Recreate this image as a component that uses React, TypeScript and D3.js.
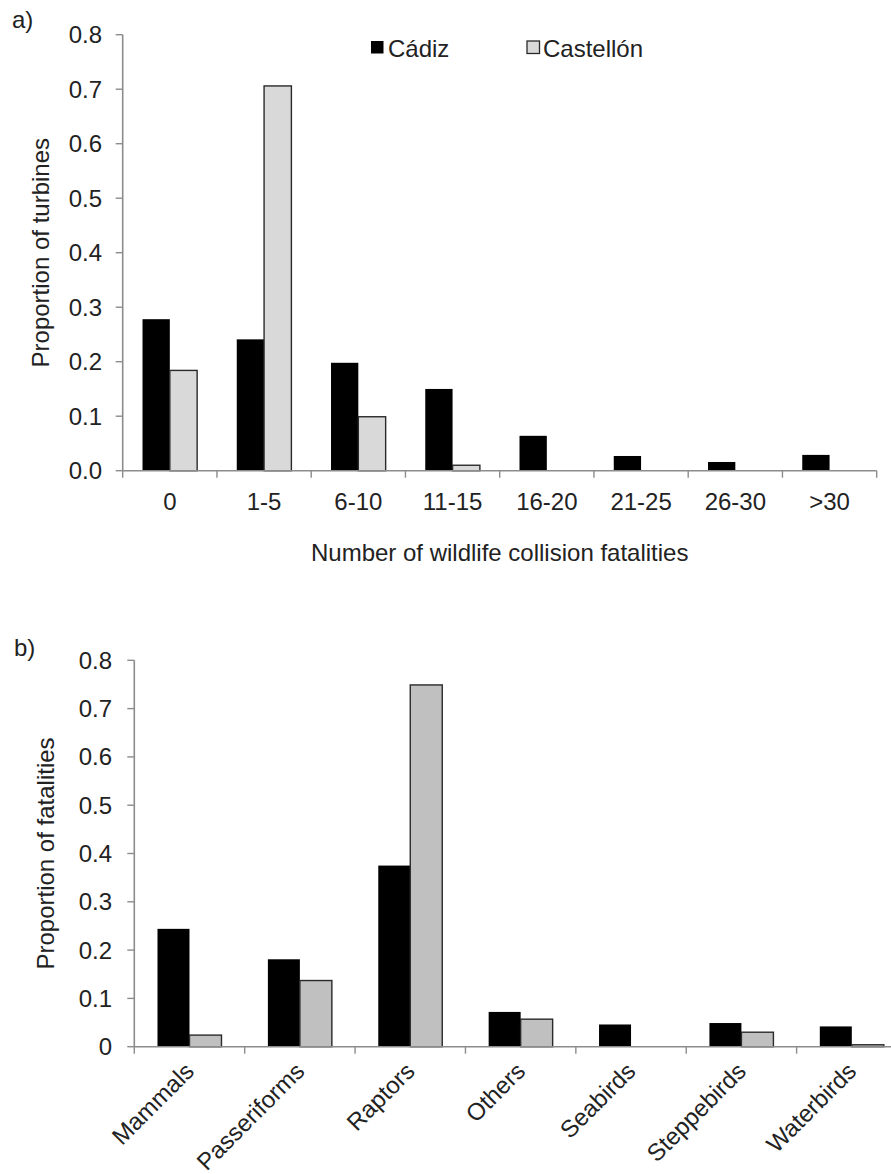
import React from "react";
import * as d3 from "d3";

const catsA = ["0", "1-5", "6-10", "11-15", "16-20", "21-25", "26-30", ">30"];
const cadizA = [0.278, 0.241, 0.198, 0.15, 0.064, 0.027, 0.016, 0.029];
const castellonA = [0.184, 0.706, 0.099, 0.01, 0, 0, 0, 0];
const ticksA = [0, 0.1, 0.2, 0.3, 0.4, 0.5, 0.6, 0.7, 0.8];
const tickLabelsA = ["0.0", "0.1", "0.2", "0.3", "0.4", "0.5", "0.6", "0.7", "0.8"];

const catsB = ["Mammals", "Passeriforms", "Raptors", "Others", "Seabirds", "Steppebirds", "Waterbirds"];
const cadizB = [0.244, 0.181, 0.375, 0.072, 0.046, 0.049, 0.042];
const castellonB = [0.024, 0.137, 0.749, 0.057, 0, 0.03, 0.004];
const ticksB = [0, 0.1, 0.2, 0.3, 0.4, 0.5, 0.6, 0.7, 0.8];
const tickLabelsB = ["0", "0.1", "0.2", "0.3", "0.4", "0.5", "0.6", "0.7", "0.8"];

const seriesNames = ["Cádiz", "Castellón"];

const FONT = "'Liberation Sans', Arial, sans-serif";
const AXIS = "#8c8c8c";
const TXT = "#222";

function Panel(props: {
  cats: string[];
  s1: number[];
  s2: number[];
  ticks: number[];
  tickLabels: string[];
  x0: number;
  x1: number;
  y0: number;
  y1: number;
  fill2: string;
  tickLabelX: number;
  rotated: boolean;
}) {
  const { cats, s1, s2, ticks, tickLabels, x0, x1, y0, y1, fill2, tickLabelX, rotated } = props;
  const x = d3.scaleBand<string>().domain(cats).range([x0, x1]).paddingInner(0).paddingOuter(0);
  const inner = d3
    .scaleBand<string>()
    .domain(seriesNames)
    .range([0, x.bandwidth()])
    .paddingInner(0)
    .paddingOuter(0.725);
  const y = d3.scaleLinear().domain([0, 0.8]).range([y0, y1]);
  const edges = d3.range(cats.length + 1).map((i) => x0 + i * x.step());
  return (
    <g>
      {cats.map((c, i) => (
        <g key={c}>
          <rect
            x={(x(c) as number) + (inner("Cádiz") as number)}
            y={y(s1[i])}
            width={inner.bandwidth()}
            height={y(0) - y(s1[i])}
            fill="#000"
          />
          {s2[i] > 0 && (
            <rect
              x={(x(c) as number) + (inner("Castellón") as number)}
              y={y(s2[i])}
              width={inner.bandwidth()}
              height={y(0) - y(s2[i])}
              fill={fill2}
              stroke="#2a2a2a"
              strokeWidth={1.4}
            />
          )}
        </g>
      ))}
      {/* y axis */}
      <line x1={x0} x2={x0} y1={y(0.8)} y2={y(0)} stroke={AXIS} strokeWidth={1.6} />
      {ticks.map((t, i) => (
        <g key={t}>
          <line x1={x0 - 7} x2={x0} y1={y(t)} y2={y(t)} stroke={AXIS} strokeWidth={1.4} />
          <text
            x={tickLabelX}
            y={y(t)}
            dy="0.35em"
            textAnchor="end"
            fontFamily={FONT}
            fontSize={24}
            fill={TXT}
          >
            {tickLabels[i]}
          </text>
        </g>
      ))}
      {/* x axis */}
      <line x1={x0} x2={x1} y1={y(0)} y2={y(0)} stroke={AXIS} strokeWidth={1.6} />
      {edges.map((e, i) => (
        <line key={i} x1={e} x2={e} y1={y(0)} y2={y(0) + 7} stroke={AXIS} strokeWidth={1.4} />
      ))}
      {cats.map((c) => {
        const cx = (x(c) as number) + x.bandwidth() / 2;
        return rotated ? (
          <text
            key={c}
            transform={`translate(${cx + 6},${y(0) + 26}) rotate(-45)`}
            textAnchor="end"
            fontFamily={FONT}
            fontSize={24}
            fill={TXT}
          >
            {c}
          </text>
        ) : (
          <text key={c} x={cx} y={y(0) + 39} textAnchor="middle" fontFamily={FONT} fontSize={24} fill={TXT}>
            {c}
          </text>
        );
      })}
    </g>
  );
}

export default function App() {
  return (
    <div style={{ position: "absolute", left: 0, top: 0 }}>
      <svg width={891} height={1174} style={{ display: "block", background: "#fff", overflow: "hidden" }}>
        <rect x={0} y={0} width={891} height={1174} fill="#fff" />
        {/* Panel a */}
        <text x={12} y={28} fontFamily={FONT} fontSize={24} fill={TXT}>
          a)
        </text>
        <Panel
          cats={catsA}
          s1={cadizA}
          s2={castellonA}
          ticks={ticksA}
          tickLabels={tickLabelsA}
          x0={122.7}
          x1={876.7}
          y0={470.7}
          y1={34.7}
          fill2="#d9d9d9"
          tickLabelX={102}
          rotated={false}
        />
        <text
          transform={`translate(49,252.7) rotate(-90)`}
          textAnchor="middle"
          fontFamily={FONT}
          fontSize={24}
          fill={TXT}
        >
          Proportion of turbines
        </text>
        <text x={499.7} y={560.7} textAnchor="middle" fontFamily={FONT} fontSize={24} fill={TXT}>
          Number of wildlife collision fatalities
        </text>
        {/* legend */}
        <rect x={371} y={41} width={12.5} height={12.5} fill="#000" />
        <text x={388} y={57} fontFamily={FONT} fontSize={24} fill={TXT}>
          {seriesNames[0]}
        </text>
        <rect x={527} y={41} width={12.5} height={12.5} fill="#d9d9d9" stroke="#2a2a2a" strokeWidth={1.3} />
        <text x={543} y={57} fontFamily={FONT} fontSize={24} fill={TXT}>
          {seriesNames[1]}
        </text>

        {/* Panel b */}
        <text x={14} y={656} fontFamily={FONT} fontSize={24} fill={TXT}>
          b)
        </text>
        <Panel
          cats={catsB}
          s1={cadizB}
          s2={castellonB}
          ticks={ticksB}
          tickLabels={tickLabelsB}
          x0={134.3}
          x1={907}
          y0={1046.7}
          y1={660.3}
          fill2="#c0c0c0"
          tickLabelX={112}
          rotated={true}
        />
        <text
          transform={`translate(54,853.5) rotate(-90)`}
          textAnchor="middle"
          fontFamily={FONT}
          fontSize={24}
          fill={TXT}
        >
          Proportion of fatalities
        </text>
      </svg>
    </div>
  );
}
